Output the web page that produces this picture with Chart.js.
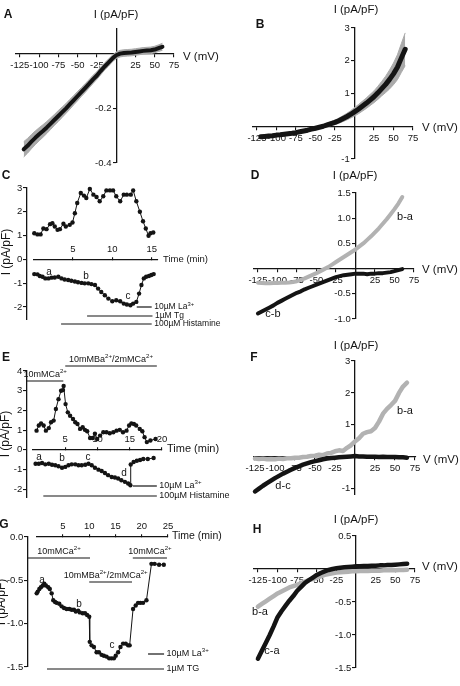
<!DOCTYPE html>
<html><head><meta charset="utf-8">
<script src="https://cdn.jsdelivr.net/npm/chart.js@4.4.1/dist/chart.umd.min.js"></script>
<style>
html,body{margin:0;padding:0;background:#fff;}
#wrap{position:relative;width:460px;height:686px;overflow:hidden;background:#fff;}
canvas{position:absolute;left:0;top:0;}
</style></head><body><div id="wrap">
<canvas id="cA" width="460" height="686"></canvas>
<canvas id="cB" width="460" height="686"></canvas>
<canvas id="cC" width="460" height="686"></canvas>
<canvas id="cD" width="460" height="686"></canvas>
<canvas id="cE" width="460" height="686"></canvas>
<canvas id="cF" width="460" height="686"></canvas>
<canvas id="cG" width="460" height="686"></canvas>
<canvas id="cH" width="460" height="686"></canvas>
</div>
<script>
// ---------------- DATA ----------------
const V_MV = [-125,-120,-115,-110,-105,-100,-95,-90,-85,-80,-75,-70,-65,-60,-55,-50,-45,-40,-35,-30,-25,-20,-15,-10,-5,0,5,10,15,20,25,30,35,40,45,50,55,60,65];
const IV_XTICKS = [-125,-100,-75,-50,-25,0,25,50,75];

const A_I   = [null,-0.35,-0.337,-0.322,-0.308,-0.295,-0.283,-0.27,-0.256,-0.242,-0.228,-0.214,-0.2,-0.185,-0.17,-0.155,-0.14,-0.125,-0.11,-0.094,-0.08,-0.063,-0.047,-0.033,-0.018,-0.006,0.0,0.002,0.003,0.004,0.006,0.008,0.01,0.011,0.012,0.015,0.02,0.025,null];
const A_SEM = [null,0.028,0.027,0.026,0.025,0.024,0.023,0.022,0.021,0.02,0.02,0.019,0.018,0.018,0.017,0.017,0.016,0.016,0.015,0.015,0.014,0.014,0.013,0.013,0.012,0.012,0.012,0.012,0.012,0.012,0.012,0.012,0.012,0.012,0.012,0.012,0.012,0.013,null];
const A_YTICKS = [-0.4,-0.2,0];

const B_I   = [null,-0.32,-0.31,-0.3,-0.29,-0.27,-0.26,-0.245,-0.23,-0.215,-0.195,-0.17,-0.145,-0.12,-0.09,-0.06,-0.03,0.0,0.04,0.08,0.12,0.17,0.23,0.29,0.36,0.44,0.52,0.61,0.7,0.8,0.9,1.02,1.15,1.28,1.43,1.6,1.8,2.08,2.35];
const B_SEM = [null,0.04,0.04,0.04,0.04,0.04,0.04,0.04,0.04,0.04,0.04,0.04,0.04,0.04,0.04,0.04,0.04,0.05,0.05,0.06,0.07,0.08,0.09,0.1,0.11,0.13,0.14,0.15,0.16,0.17,0.18,0.2,0.22,0.25,0.29,0.33,0.38,0.44,0.5];
const B_YTICKS = [-1,0,1,2,3];

const D_BA = [-0.28,-0.285,-0.29,-0.29,-0.285,-0.285,-0.28,-0.28,-0.275,-0.265,-0.25,-0.225,-0.195,-0.16,-0.125,-0.09,-0.05,-0.01,0.03,0.08,0.13,0.18,0.23,0.28,0.33,0.38,0.44,0.5,0.57,0.64,0.72,0.8,0.89,0.98,1.08,1.18,1.29,1.42,null];
const D_CB = [-0.89,-0.85,-0.81,-0.77,-0.73,-0.68,-0.64,-0.6,-0.56,-0.52,-0.48,-0.45,-0.41,-0.38,-0.35,-0.32,-0.29,-0.26,-0.23,-0.2,-0.17,-0.15,-0.13,-0.12,-0.11,-0.1,-0.1,-0.1,-0.11,-0.1,-0.1,-0.09,-0.09,-0.08,-0.07,-0.05,-0.03,-0.01,null];
const D_YTICKS = [-1,-0.5,0,0.5,1,1.5];

const F_BA = [-0.06,-0.07,-0.06,-0.08,-0.07,-0.08,-0.06,-0.07,-0.05,-0.05,-0.03,-0.03,-0.01,0.0,0.02,0.03,0.06,0.05,0.1,0.12,0.17,0.2,0.18,0.28,0.36,0.48,0.58,0.72,0.77,0.8,0.9,1.1,1.35,1.5,1.62,1.75,2.0,2.2,2.32];
const F_DC = [-1.09,-1.0,-0.91,-0.83,-0.75,-0.67,-0.6,-0.53,-0.47,-0.41,-0.35,-0.3,-0.25,-0.21,-0.17,-0.14,-0.11,-0.08,-0.06,-0.04,-0.03,-0.02,-0.01,0.0,0.01,0.02,0.01,0.01,0.0,0.0,0.0,-0.01,0.0,-0.01,-0.01,-0.01,-0.02,-0.02,-0.03];
const F_YTICKS = [-1,0,1,2,3];

const H_BA = [-0.57,-0.53,-0.49,-0.45,-0.41,-0.37,-0.34,-0.31,-0.28,-0.26,-0.24,-0.215,-0.19,-0.17,-0.15,-0.13,-0.11,-0.09,-0.075,-0.065,-0.055,-0.05,-0.045,-0.04,-0.035,-0.035,-0.03,-0.03,-0.03,-0.025,-0.025,-0.025,-0.02,-0.02,-0.02,-0.02,-0.015,-0.015,-0.01];
const H_CA = [-1.36,-1.24,-1.12,-1.0,-0.87,-0.73,-0.64,-0.56,-0.48,-0.41,-0.33,-0.27,-0.21,-0.17,-0.13,-0.09,-0.06,-0.035,-0.015,0.0,0.01,0.02,0.025,0.03,0.035,0.04,0.04,0.045,0.045,0.05,0.05,0.055,0.055,0.06,0.06,0.065,0.07,0.075,0.08];
const H_YTICKS = [-1.5,-1,-0.5,0,0.5];

const C_T_UP = [0.1,0.5,0.9,1.25,1.65,2.1,2.4,2.7,3.05,3.35,3.8,4.1,4.6,4.95,5.25,5.55,6.0,6.4,6.7,7.15,7.6,8.0,8.4,8.85,9.25,9.7,10.1,10.5,11.0,11.45,11.85,12.35,12.65,13.05,13.5,13.9,14.25,14.6,14.85,15.2];
const C_I_UP = [1.1,1.05,1.05,1.3,1.27,1.48,1.52,1.38,1.24,1.27,1.5,1.38,1.45,1.55,1.94,2.37,2.79,2.68,2.58,2.96,2.72,2.62,2.44,2.65,2.9,2.9,2.9,2.65,2.44,2.72,2.72,2.72,2.9,2.44,2.0,1.6,1.3,0.99,1.1,1.13];
const C_T_DN = [0.1,0.5,0.8,1.15,1.5,1.9,2.3,2.7,3.15,3.55,3.95,4.4,4.8,5.25,5.65,6.1,6.5,6.95,7.35,7.8,8.2,8.6,9.05,9.5,10.0,10.5,11.0,11.45,11.85,12.3,12.65,13.05,13.4,13.7,14.0,14.3,14.65,14.95,15.25];
const C_I_DN = [-0.62,-0.63,-0.7,-0.73,-0.8,-0.8,-0.77,-0.76,-0.73,-0.8,-0.85,-0.87,-0.9,-0.93,-0.96,-0.99,-1.01,-1.01,-1.04,-1.08,-1.23,-1.37,-1.51,-1.65,-1.76,-1.72,-1.76,-1.86,-1.9,-1.93,-1.86,-1.79,-1.44,-1.08,-0.8,-0.73,-0.7,-0.66,-0.62];
const C_XTICKS = [5,10,15];
const C_YTICKS = [-2,-1,0,1,2,3];
const C_BAR_NAMES = ['10µM La^{3+}','1µM Tg','100µM Histamine'];
const C_BAR_T0 = [13.1,6.8,3.5];
const C_BAR_T1 = [15.0,15.1,15.0];

const E_T_UP = [0.55,0.9,1.25,1.65,2.0,2.45,2.8,3.2,3.55,3.95,4.35,4.65,4.75,5.05,5.4,5.75,6.2,6.55,6.9,7.3,7.7,8.05,8.4,8.85,9.25,9.6,9.95,10.4,10.9,11.4,11.9,12.45,12.95,13.45,13.95,14.5,14.9,15.25,15.65,16.0,16.55,16.95,17.3,17.65,18.2,19.0];
const E_I_UP = [0.97,1.23,1.34,1.23,0.97,1.1,1.4,1.48,2.07,2.57,3.0,3.03,3.24,2.32,1.9,1.73,1.56,1.4,1.31,1.06,1.14,1.01,0.94,0.6,0.6,0.81,0.55,0.72,0.89,0.89,0.84,0.89,0.97,1.01,0.89,0.97,1.23,1.34,1.31,1.23,1.06,0.94,0.64,0.39,0.47,0.55];
const E_T_DN = [0.4,0.9,1.4,1.9,2.45,2.95,3.45,3.95,4.5,5.0,5.5,6.0,6.55,7.05,7.55,8.1,8.6,9.1,9.6,10.15,10.65,11.15,11.65,12.2,12.7,13.2,13.7,14.25,14.75,15.1,15.15,15.6,16.1,16.6,17.1,17.8,18.7];
const E_I_DN = [-0.71,-0.71,-0.67,-0.74,-0.71,-0.76,-0.79,-0.84,-0.91,-0.87,-0.79,-0.74,-0.74,-0.79,-0.79,-0.76,-0.71,-0.79,-0.91,-1.01,-1.08,-1.18,-1.29,-1.38,-1.41,-1.46,-1.55,-1.63,-1.71,-1.8,-0.75,-0.62,-0.56,-0.52,-0.47,-0.47,-0.42];
const E_XTICKS = [5,10,15,20];
const E_YTICKS = [-2,-1,0,1,2,3,4];
const E_BAR_NAMES = ['10mMCa^{2+}','10mMBa^{2+}/2mMCa^{2+}','10µM La^{3+}','100µM Histamine'];
const E_BAR_T0 = [-0.93,5.0,15.5,1.6];
const E_BAR_T1 = [4.7,19.2,19.2,19.2];

const G_T = [0.0,0.2,0.5,0.8,1.15,1.45,1.75,2.2,2.5,2.85,3.15,3.5,3.8,4.3,4.75,5.2,5.7,6.2,6.65,7.1,7.45,7.9,8.2,8.75,9.2,9.6,10.0,10.1,10.45,10.9,11.4,11.85,12.35,12.8,13.3,13.8,14.25,14.7,15.05,15.5,15.95,16.45,16.95,17.4,17.7,18.35,18.85,19.3,19.75,20.25,20.9,21.85,22.45,23.3,24.2];
const G_I = [-0.65,-0.63,-0.6,-0.58,-0.56,-0.54,-0.56,-0.58,-0.6,-0.65,-0.73,-0.75,-0.76,-0.77,-0.8,-0.82,-0.83,-0.83,-0.84,-0.84,-0.86,-0.85,-0.87,-0.88,-0.88,-0.9,-0.92,-1.21,-1.25,-1.27,-1.33,-1.33,-1.36,-1.37,-1.38,-1.4,-1.4,-1.4,-1.37,-1.33,-1.27,-1.23,-1.23,-1.25,-1.25,-0.83,-0.79,-0.76,-0.76,-0.76,-0.73,-0.31,-0.31,-0.32,-0.32];
const G_XTICKS = [5,10,15,20,25];
const G_YTICKS = [-1.5,-1,-0.5,0];
const G_BAR_NAMES = ['10mMCa^{2+}','10mMCa^{2+}','10mMBa^{2+}/2mMCa^{2+}','10µM La^{3+}','1µM TG'];
const G_BAR_T0 = [-1.65,18.3,10.0,21.2,1.96];
const G_BAR_T1 = [10.15,24.8,18.15,24.25,24.25];

// ---------------- RENDERING ----------------
const FONT = "'Liberation Sans', Arial, Helvetica, sans-serif";
const INK = '#141414';
const GRAY_LINE = '#b2b2b2';
const GRAY_BAND = '#aaaaaa';
const W = 460, H = 686;
const GAP = '\u2002'; // space between y tick labels and the axis line

function zeroPad(s){ s.paddingLeft = 0; s.paddingRight = 0; s.paddingTop = 0; s.paddingBottom = 0; }

function axisOpts(name, c){
  return {
    type: 'linear', min: c.min, max: c.max, bounds: 'data',
    position: name === 'x' ? {y: c.at} : {x: c.at},
    afterFit: zeroPad,
    afterBuildTicks: s => { s.ticks = c.ticks.map(v => ({value: v})); },
    grid: {display: true, drawOnChartArea: false, drawTicks: true, tickLength: c.tickLen !== undefined ? c.tickLen : 3, color: INK, tickColor: INK, lineWidth: 1.1},
    border: {display: true, color: INK, width: 1.3},
    ticks: {autoSkip: false, maxRotation: 0, minRotation: 0, padding: c.pad !== undefined ? c.pad : 2, color: INK,
            font: {family: FONT, size: 9.5},
            callback: name === 'y' ? (v => { const s = c.fmt(v); return s === '' ? '' : s + GAP; }) : c.fmt}
  };
}

function richText(ctx, str, x, y, size, align, bold){
  const segs = []; const re = /\^\{([^}]*)\}/g; let last = 0, m;
  while ((m = re.exec(str))) { if (m.index > last) segs.push({s: str.slice(last, m.index), sup: false}); segs.push({s: m[1], sup: true}); last = re.lastIndex; }
  if (last < str.length) segs.push({s: str.slice(last), sup: false});
  const w0 = bold ? 'bold ' : '';
  const f0 = w0 + size + 'px ' + FONT, f1 = w0 + (size * 0.68).toFixed(1) + 'px ' + FONT;
  let tw = 0;
  segs.forEach(g => { ctx.font = g.sup ? f1 : f0; g.w = ctx.measureText(g.s).width; tw += g.w; });
  let cx = align === 'center' ? x - tw / 2 : (align === 'right' ? x - tw : x);
  ctx.textBaseline = 'middle'; ctx.textAlign = 'left';
  segs.forEach(g => { ctx.font = g.sup ? f1 : f0; ctx.fillText(g.s, cx, g.sup ? y - size * 0.36 : y); cx += g.w; });
}

function decoPlugin(d){
  return {
    id: 'deco',
    afterDraw(chart){
      const ctx = chart.ctx; ctx.save(); ctx.fillStyle = INK; ctx.strokeStyle = INK;
      (d.texts || []).forEach(t => {
        if (t.rot) { ctx.save(); ctx.translate(t.x, t.y); ctx.rotate(-Math.PI / 2); richText(ctx, t.s, 0, 0, t.size || 11.5, 'center', t.bold); ctx.restore(); }
        else richText(ctx, t.s, t.x, t.y, t.size || 11.5, t.align || 'center', t.bold);
      });
      if (d.bars) {
        const xs = chart.scales.x;
        d.bars.names.forEach((nm, i) => {
          const x0 = xs.getPixelForValue(d.bars.t0[i]), x1 = xs.getPixelForValue(d.bars.t1[i]);
          const L = d.bars.layout[i];
          ctx.lineWidth = 1.2; ctx.beginPath(); ctx.moveTo(x0, L.y); ctx.lineTo(x1, L.y); ctx.stroke();
          if (L.mode === 'right') richText(ctx, nm, x1 + 2.5, L.y, d.bars.size, 'left');
          else richText(ctx, nm, (x0 + x1) / 2 + (L.dx || 0), L.y - (L.dy || 7), d.bars.size, 'center');
        });
      }
      ctx.restore();
    }
  };
}

function makeChart(id, area, xc, yc, datasets, deco){
  const [l, t, r, b] = area;
  return new Chart(document.getElementById(id), {
    type: 'line',
    data: {datasets},
    options: {
      responsive: false, animation: false, devicePixelRatio: 1, events: [],
      layout: {padding: {left: l, top: t, right: W - r, bottom: H - b}},
      plugins: {legend: {display: false}, tooltip: {enabled: false}},
      scales: {x: axisOpts('x', xc), y: axisOpts('y', yc)}
    },
    plugins: [decoPlugin(deco)]
  });
}

function ivPts(arr, sem, sign){
  return V_MV.map((v, i) => ({x: v, y: (arr[i] === null || arr[i] === undefined) ? null : arr[i] + (sem ? sign * sem[i] : 0)})).filter(p => p.y !== null);
}
function lineDS(data, color, w){
  return {data, borderColor: color, borderWidth: w, pointRadius: 0, fill: false, clip: false, tension: 0, borderCapStyle: 'round', borderJoinStyle: 'round'};
}
function bandDS(arr, sem){
  return [
    {data: ivPts(arr, sem, -1), borderColor: GRAY_BAND, borderWidth: 1, pointRadius: 0, fill: false, clip: false, tension: 0},
    {data: ivPts(arr, sem, 1), borderColor: GRAY_BAND, borderWidth: 1, pointRadius: 0, fill: '-1', backgroundColor: GRAY_BAND, clip: false, tension: 0}
  ];
}
function traceDS(ts, vs){
  return {data: ts.map((x, i) => ({x, y: vs[i]})), borderColor: INK, borderWidth: 1, pointRadius: 2.2, pointBackgroundColor: INK, pointBorderWidth: 0, fill: false, clip: false, tension: 0};
}

const ivFmt = v => v === 0 ? '' : String(v);
const ivX = (mn, mx) => ({min: mn, max: mx, at: 0, ticks: IV_XTICKS, fmt: ivFmt, tickLen: 3, pad: 3});
const tX = (mx, ticks) => ({min: 0, max: mx, at: 0, ticks, fmt: v => String(v), tickLen: -3, pad: -13});

// A
makeChart('cA', [16, 29, 174, 163], ivX(-130, 75),
  {min: -0.4, max: 0.09, at: 0, ticks: A_YTICKS, fmt: v => v === 0 ? '' : v.toFixed(1)},
  [lineDS(ivPts(A_I), INK, 4), ...bandDS(A_I, A_SEM)],
  {texts: [{s: 'A', x: 8, y: 15, bold: true, size: 12}, {s: 'I (pA/pF)', x: 116, y: 15}, {s: 'V (mV)', x: 183, y: 57, align: 'left'}]});

// B
makeChart('cB', [253, 28, 413, 159], ivX(-130, 75),
  {min: -1, max: 3, at: 0, ticks: B_YTICKS, fmt: ivFmt},
  [lineDS(ivPts(B_I), INK, 5), ...bandDS(B_I, B_SEM)],
  {texts: [{s: 'B', x: 260, y: 25, bold: true, size: 12}, {s: 'I (pA/pF)', x: 356, y: 10}, {s: 'V (mV)', x: 422, y: 128, align: 'left'}]});

// C
makeChart('cC', [33.5, 188, 158, 320], tX(15.8, C_XTICKS),
  {min: -2.55, max: 3, at: -0.83, ticks: C_YTICKS, fmt: v => String(v)},
  [traceDS(C_T_UP, C_I_UP), traceDS(C_T_DN, C_I_DN)],
  {texts: [{s: 'C', x: 6, y: 176, bold: true, size: 12}, {s: 'I (pA/pF)', x: 7, y: 252, rot: true, size: 12},
           {s: 'Time (min)', x: 163, y: 259, align: 'left', size: 9.5},
           {s: 'a', x: 49, y: 272, size: 10}, {s: 'b', x: 86, y: 276, size: 10}, {s: 'c', x: 128, y: 296, size: 10}],
   bars: {names: C_BAR_NAMES, t0: C_BAR_T0, t1: C_BAR_T1, size: 8.5,
          layout: [{y: 307, mode: 'right'}, {y: 316, mode: 'right'}, {y: 324, mode: 'right'}]}});

// D
makeChart('cD', [254, 193, 414, 319], ivX(-130, 75),
  {min: -1, max: 1.5, at: 0, ticks: D_YTICKS, fmt: v => v === 0 ? '' : v.toFixed(1)},
  [lineDS(ivPts(D_CB), INK, 4), lineDS(ivPts(D_BA), GRAY_LINE, 4)],
  {texts: [{s: 'D', x: 255, y: 176, bold: true, size: 12}, {s: 'I (pA/pF)', x: 355, y: 176}, {s: 'V (mV)', x: 422, y: 270, align: 'left'},
           {s: 'b-a', x: 405, y: 217, size: 11}, {s: 'c-b', x: 273, y: 314, size: 11}]});

// E
makeChart('cE', [33, 371, 162, 498], tX(20, E_XTICKS),
  {min: -2.45, max: 4, at: -0.93, ticks: E_YTICKS, fmt: v => String(v)},
  [traceDS(E_T_UP, E_I_UP), traceDS(E_T_DN, E_I_DN)],
  {texts: [{s: 'E', x: 6, y: 358, bold: true, size: 12}, {s: 'I (pA/pF)', x: 6, y: 434, rot: true, size: 12},
           {s: 'Time (min)', x: 167, y: 449, align: 'left', size: 11},
           {s: 'a', x: 39, y: 457, size: 10}, {s: 'b', x: 62, y: 458, size: 10}, {s: 'c', x: 88, y: 457, size: 10}, {s: 'd', x: 124, y: 473, size: 10}],
   bars: {names: E_BAR_NAMES, t0: E_BAR_T0, t1: E_BAR_T1, size: 9,
          layout: [{y: 381, mode: 'above', dy: 6}, {y: 366, mode: 'above', dy: 6}, {y: 486, mode: 'right'}, {y: 496, mode: 'right'}]}});

// F
makeChart('cF', [253.4, 361, 415.8, 495], ivX(-127, 76),
  {min: -1.2, max: 3, at: 0, ticks: F_YTICKS, fmt: ivFmt},
  [lineDS(ivPts(F_DC), INK, 4.5), lineDS(ivPts(F_BA), GRAY_LINE, 4.5)],
  {texts: [{s: 'F', x: 254, y: 358, bold: true, size: 12}, {s: 'I (pA/pF)', x: 356, y: 346}, {s: 'V (mV)', x: 423, y: 460, align: 'left'},
           {s: 'b-a', x: 405, y: 411, size: 11}, {s: 'd-c', x: 283, y: 486, size: 11}]});

// G
makeChart('cG', [36.7, 537, 168, 667], tX(25, G_XTICKS),
  {min: -1.5, max: 0, at: -1.65, ticks: G_YTICKS, fmt: v => v.toFixed(1)},
  [traceDS(G_T, G_I)],
  {texts: [{s: 'G', x: 4, y: 525, bold: true, size: 12}, {s: 'I (pA/pF)', x: 2, y: 602, rot: true, size: 12},
           {s: 'Time (min)', x: 172, y: 536, align: 'left', size: 10.5},
           {s: 'a', x: 42, y: 580, size: 10}, {s: 'b', x: 79, y: 604, size: 10}, {s: 'c', x: 112, y: 645, size: 10}],
   bars: {names: G_BAR_NAMES, t0: G_BAR_T0, t1: G_BAR_T1, size: 9,
          layout: [{y: 558, mode: 'above', dy: 6}, {y: 558, mode: 'above', dy: 6}, {y: 582, mode: 'above', dy: 6, dx: -5}, {y: 654, mode: 'right'}, {y: 669, mode: 'right'}]}});

// H
makeChart('cH', [254, 536, 415, 668], ivX(-130, 75),
  {min: -1.5, max: 0.5, at: 0, ticks: H_YTICKS, fmt: v => v === 0 ? '' : v.toFixed(1)},
  [lineDS(ivPts(H_CA), INK, 4.5), lineDS(ivPts(H_BA), GRAY_LINE, 4.5)],
  {texts: [{s: 'H', x: 257, y: 530, bold: true, size: 12}, {s: 'I (pA/pF)', x: 356, y: 520}, {s: 'V (mV)', x: 422, y: 567, align: 'left'},
           {s: 'b-a', x: 260, y: 612, size: 11}, {s: 'c-a', x: 272, y: 651, size: 11}]});
</script>
</body></html>
